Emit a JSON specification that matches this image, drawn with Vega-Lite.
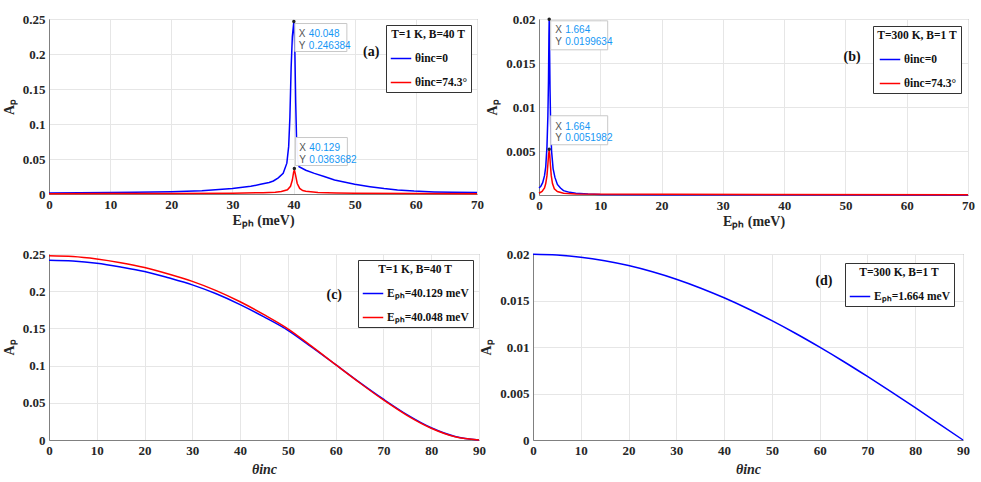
{
"$schema": "https://vega.github.io/schema/vega-lite/v6.json",
"background": "white",
"padding": {"left": 1, "top": 12, "right": 5, "bottom": 0},
"spacing": 18,
"config": {
  "font": "Liberation Serif",
  "view": {"stroke": "#808080", "strokeWidth": 1},
  "axis": {"labelFont": "Liberation Serif", "labelFontWeight": "bold", "labelFontSize": 13, "labelColor": "#262626",
           "titleFont": "Liberation Serif", "titleFontWeight": "bold", "titleFontSize": 14, "titleColor": "#262626",
           "gridColor": "#e6e6e6", "domainColor": "#808080", "ticks": false, "labelPadding": 4, "labelFlush": false, "labelOverlap": false},
  "axisX": {"titlePadding": 2},
  "axisY": {"titlePadding": 6},
  "legend": {"orient": "top-right", "offset": 6, "fillColor": "white", "strokeColor": "#333333", "padding": 4,
             "titleAnchor": "middle", "titleFont": "Liberation Serif", "titleFontWeight": "bold", "titleFontSize": 11.5, "titleColor": "#111111",
             "labelFont": "Liberation Serif", "labelFontWeight": "bold", "labelFontSize": 11.5, "labelColor": "#111111", "labelOffset": 3,
             "symbolType": "stroke", "symbolSize": 420, "symbolStrokeWidth": 1.5, "rowPadding": 7, "titlePadding": 7}
},
"datasets": {
  "a": [
    {"s":"θinc=0","x":0,"y":0.0015},{"s":"θinc=0","x":5,"y":0.0017},{"s":"θinc=0","x":10,"y":0.002},{"s":"θinc=0","x":14,"y":0.0024},
    {"s":"θinc=0","x":20,"y":0.0032},{"s":"θinc=0","x":25,"y":0.0048},{"s":"θinc=0","x":30,"y":0.0078},{"s":"θinc=0","x":33,"y":0.011},
    {"s":"θinc=0","x":34.6,"y":0.0138},{"s":"θinc=0","x":36,"y":0.0165},{"s":"θinc=0","x":36.7,"y":0.0186},{"s":"θinc=0","x":37.5,"y":0.023},
    {"s":"θinc=0","x":38.3,"y":0.0295},{"s":"θinc=0","x":38.9,"y":0.044},{"s":"θinc=0","x":39.2,"y":0.068},{"s":"θinc=0","x":39.4,"y":0.11},
    {"s":"θinc=0","x":39.6,"y":0.18},{"s":"θinc=0","x":39.8,"y":0.225},{"s":"θinc=0","x":40.048,"y":0.2464},{"s":"θinc=0","x":40.2,"y":0.21},
    {"s":"θinc=0","x":40.35,"y":0.13},{"s":"θinc=0","x":40.5,"y":0.075},{"s":"θinc=0","x":40.7,"y":0.048},{"s":"θinc=0","x":40.9,"y":0.039},
    {"s":"θinc=0","x":42,"y":0.034},{"s":"θinc=0","x":43.4,"y":0.0295},{"s":"θinc=0","x":45,"y":0.025},{"s":"θinc=0","x":46.7,"y":0.02},
    {"s":"θinc=0","x":50,"y":0.0138},{"s":"θinc=0","x":52.5,"y":0.0105},{"s":"θinc=0","x":54.8,"y":0.0078},{"s":"θinc=0","x":57,"y":0.0058},
    {"s":"θinc=0","x":59.7,"y":0.0042},{"s":"θinc=0","x":63,"y":0.003},{"s":"θinc=0","x":66,"y":0.0024},{"s":"θinc=0","x":70,"y":0.002},
    {"s":"θinc=74.3°","x":0,"y":0.0005},{"s":"θinc=74.3°","x":10,"y":0.0006},{"s":"θinc=74.3°","x":20,"y":0.0008},{"s":"θinc=74.3°","x":30,"y":0.0012},
    {"s":"θinc=74.3°","x":35,"y":0.0018},{"s":"θinc=74.3°","x":37,"y":0.0025},{"s":"θinc=74.3°","x":38,"y":0.0035},{"s":"θinc=74.3°","x":39,"y":0.006},
    {"s":"θinc=74.3°","x":39.5,"y":0.011},{"s":"θinc=74.3°","x":39.8,"y":0.02},{"s":"θinc=74.3°","x":40,"y":0.031},{"s":"θinc=74.3°","x":40.129,"y":0.0345},
    {"s":"θinc=74.3°","x":40.3,"y":0.028},{"s":"θinc=74.3°","x":40.6,"y":0.015},{"s":"θinc=74.3°","x":41,"y":0.008},{"s":"θinc=74.3°","x":41.5,"y":0.005},
    {"s":"θinc=74.3°","x":42,"y":0.0038},{"s":"θinc=74.3°","x":44,"y":0.0022},{"s":"θinc=74.3°","x":47,"y":0.0014},{"s":"θinc=74.3°","x":50,"y":0.001},
    {"s":"θinc=74.3°","x":60,"y":0.0006},{"s":"θinc=74.3°","x":70,"y":0.0005}
  ],
  "b": [
    {"s":"θinc=0","x":0,"y":0.0008},{"s":"θinc=0","x":0.3,"y":0.001},{"s":"θinc=0","x":0.6,"y":0.0014},{"s":"θinc=0","x":0.9,"y":0.0022},
    {"s":"θinc=0","x":1.1,"y":0.0032},{"s":"θinc=0","x":1.3,"y":0.0055},{"s":"θinc=0","x":1.45,"y":0.009},{"s":"θinc=0","x":1.55,"y":0.013},
    {"s":"θinc=0","x":1.62,"y":0.018},{"s":"θinc=0","x":1.664,"y":0.01996},{"s":"θinc=0","x":1.72,"y":0.017},{"s":"θinc=0","x":1.8,"y":0.012},
    {"s":"θinc=0","x":1.9,"y":0.008},{"s":"θinc=0","x":2.05,"y":0.005},{"s":"θinc=0","x":2.3,"y":0.003},{"s":"θinc=0","x":2.6,"y":0.002},
    {"s":"θinc=0","x":3,"y":0.0012},{"s":"θinc=0","x":3.5,"y":0.0008},{"s":"θinc=0","x":4,"y":0.0005},{"s":"θinc=0","x":5,"y":0.0003},
    {"s":"θinc=0","x":6,"y":0.0002},{"s":"θinc=0","x":8,"y":0.0001},{"s":"θinc=0","x":10,"y":0.00005},{"s":"θinc=0","x":20,"y":0.00002},
    {"s":"θinc=0","x":70,"y":0.00001},
    {"s":"θinc=74.3°","x":0,"y":0.0002},{"s":"θinc=74.3°","x":0.5,"y":0.0004},{"s":"θinc=74.3°","x":0.9,"y":0.0008},{"s":"θinc=74.3°","x":1.1,"y":0.0013},
    {"s":"θinc=74.3°","x":1.3,"y":0.0022},{"s":"θinc=74.3°","x":1.45,"y":0.0035},{"s":"θinc=74.3°","x":1.55,"y":0.0045},{"s":"θinc=74.3°","x":1.664,"y":0.0051},
    {"s":"θinc=74.3°","x":1.75,"y":0.0046},{"s":"θinc=74.3°","x":1.85,"y":0.0035},{"s":"θinc=74.3°","x":2,"y":0.0022},{"s":"θinc=74.3°","x":2.2,"y":0.0013},
    {"s":"θinc=74.3°","x":2.5,"y":0.0007},{"s":"θinc=74.3°","x":3,"y":0.0004},{"s":"θinc=74.3°","x":4,"y":0.0002},{"s":"θinc=74.3°","x":6,"y":0.0001},
    {"s":"θinc=74.3°","x":70,"y":0.00002}
  ],
  "c": [
    {"s":"Eₚₕ=40.129 meV","x":0,"y":0.2415},{"s":"Eₚₕ=40.129 meV","x":5,"y":0.2405},{"s":"Eₚₕ=40.129 meV","x":10,"y":0.2375},{"s":"Eₚₕ=40.129 meV","x":15,"y":0.2325},
    {"s":"Eₚₕ=40.129 meV","x":20,"y":0.2265},{"s":"Eₚₕ=40.129 meV","x":25,"y":0.218},{"s":"Eₚₕ=40.129 meV","x":30,"y":0.2085},{"s":"Eₚₕ=40.129 meV","x":35,"y":0.1965},
    {"s":"Eₚₕ=40.129 meV","x":40,"y":0.182},{"s":"Eₚₕ=40.129 meV","x":45,"y":0.1655},{"s":"Eₚₕ=40.129 meV","x":50,"y":0.1475},{"s":"Eₚₕ=40.129 meV","x":55,"y":0.1248},
    {"s":"Eₚₕ=40.129 meV","x":60,"y":0.1013},{"s":"Eₚₕ=40.129 meV","x":65,"y":0.0775},{"s":"Eₚₕ=40.129 meV","x":70,"y":0.0548},{"s":"Eₚₕ=40.129 meV","x":75,"y":0.0338},
    {"s":"Eₚₕ=40.129 meV","x":80,"y":0.0165},{"s":"Eₚₕ=40.129 meV","x":85,"y":0.0048},{"s":"Eₚₕ=40.129 meV","x":90,"y":0},
    {"s":"Eₚₕ=40.048 meV","x":0,"y":0.2475},{"s":"Eₚₕ=40.048 meV","x":5,"y":0.2465},{"s":"Eₚₕ=40.048 meV","x":10,"y":0.2432},{"s":"Eₚₕ=40.048 meV","x":15,"y":0.2382},
    {"s":"Eₚₕ=40.048 meV","x":20,"y":0.2318},{"s":"Eₚₕ=40.048 meV","x":25,"y":0.2232},{"s":"Eₚₕ=40.048 meV","x":30,"y":0.2132},{"s":"Eₚₕ=40.048 meV","x":35,"y":0.2008},
    {"s":"Eₚₕ=40.048 meV","x":40,"y":0.1858},{"s":"Eₚₕ=40.048 meV","x":45,"y":0.1685},{"s":"Eₚₕ=40.048 meV","x":50,"y":0.1495},{"s":"Eₚₕ=40.048 meV","x":55,"y":0.1258},
    {"s":"Eₚₕ=40.048 meV","x":60,"y":0.1013},{"s":"Eₚₕ=40.048 meV","x":65,"y":0.077},{"s":"Eₚₕ=40.048 meV","x":70,"y":0.0538},{"s":"Eₚₕ=40.048 meV","x":75,"y":0.0328},
    {"s":"Eₚₕ=40.048 meV","x":80,"y":0.0158},{"s":"Eₚₕ=40.048 meV","x":85,"y":0.0044},{"s":"Eₚₕ=40.048 meV","x":90,"y":0}
  ],
  "d": [
    {"s":"Eₚₕ=1.664 meV","x":0,"y":0.01996},{"s":"Eₚₕ=1.664 meV","x":5,"y":0.01988},{"s":"Eₚₕ=1.664 meV","x":10,"y":0.01966},{"s":"Eₚₕ=1.664 meV","x":15,"y":0.01928},
    {"s":"Eₚₕ=1.664 meV","x":20,"y":0.01876},{"s":"Eₚₕ=1.664 meV","x":25,"y":0.01809},{"s":"Eₚₕ=1.664 meV","x":30,"y":0.01729},{"s":"Eₚₕ=1.664 meV","x":35,"y":0.01635},
    {"s":"Eₚₕ=1.664 meV","x":40,"y":0.01529},{"s":"Eₚₕ=1.664 meV","x":45,"y":0.01411},{"s":"Eₚₕ=1.664 meV","x":50,"y":0.01283},{"s":"Eₚₕ=1.664 meV","x":55,"y":0.01145},
    {"s":"Eₚₕ=1.664 meV","x":60,"y":0.00998},{"s":"Eₚₕ=1.664 meV","x":65,"y":0.00844},{"s":"Eₚₕ=1.664 meV","x":70,"y":0.00683},{"s":"Eₚₕ=1.664 meV","x":75,"y":0.00517},
    {"s":"Eₚₕ=1.664 meV","x":80,"y":0.00347},{"s":"Eₚₕ=1.664 meV","x":85,"y":0.00174},{"s":"Eₚₕ=1.664 meV","x":90,"y":0}
  ],
  "tips": [
    {"p":"a","k":"top","x":40.048,"y":0.246384,"xs":"40.048","ys":"0.246384"},
    {"p":"a","k":"bot","x":40.129,"y":0.0363682,"xs":"40.129","ys":"0.0363682"},
    {"p":"b","k":"top","x":1.664,"y":0.0199634,"xs":"1.664","ys":"0.0199634"},
    {"p":"b","k":"bot","x":1.664,"y":0.0051982,"xs":"1.664","ys":"0.0051982"}
  ]
},
"resolve": {"scale": {"x": "independent", "y": "independent", "color": "independent"}, "legend": {"color": "independent"}, "axis": {"x": "independent", "y": "independent"}},
"vconcat": [
  {
    "hconcat": [
      {
        "width": 428, "height": 175,
        "encoding": {
          "x": {"type": "quantitative", "scale": {"domain": [0, 70], "nice": false}, "axis": {"values": [0,10,20,30,40,50,60,70], "title": "Eₚₕ (meV)"}},
          "y": {"type": "quantitative", "scale": {"domain": [0, 0.25], "nice": false}, "axis": {"values": [0,0.05,0.1,0.15,0.2,0.25], "format": ".2~f", "title": "Aₚ"}}
        },
        "layer": [
          {"data": {"name": "a"}, "mark": {"type": "line", "strokeWidth": 1.5},
           "encoding": {"x": {"field": "x"}, "y": {"field": "y"},
             "color": {"field": "s", "type": "nominal", "scale": {"domain": ["θinc=0", "θinc=74.3°"], "range": ["#0000ff", "#ff0000"]},
                       "legend": {"title": "T=1 K, B=40 T"}}}},
          {"data": {"name": "tips"}, "transform": [{"filter": "datum.p=='a' && datum.k=='top'"}],
           "mark": {"type": "rect", "width": 52, "height": 28, "xOffset": 27, "yOffset": 16, "fill": "white", "fillOpacity": 0.95, "stroke": "#c8c8c8", "strokeWidth": 1},
           "encoding": {"x": {"field": "x"}, "y": {"field": "y"}}},
          {"data": {"name": "tips"}, "transform": [{"filter": "datum.p=='a' && datum.k=='bot'"}],
           "mark": {"type": "rect", "width": 52, "height": 28, "xOffset": 27, "yOffset": -17, "fill": "white", "fillOpacity": 0.95, "stroke": "#c8c8c8", "strokeWidth": 1},
           "encoding": {"x": {"field": "x"}, "y": {"field": "y"}}},
          {"data": {"name": "tips"}, "transform": [{"filter": "datum.p=='a' && datum.k=='top'"}],
           "mark": {"type": "text", "text": "X", "align": "left", "baseline": "middle", "dx": 5, "dy": 12, "font": "Liberation Sans", "fontSize": 10, "color": "#555555"},
           "encoding": {"x": {"field": "x"}, "y": {"field": "y"}}},
          {"data": {"name": "tips"}, "transform": [{"filter": "datum.p=='a' && datum.k=='top'"}],
           "mark": {"type": "text", "text": "Y", "align": "left", "baseline": "middle", "dx": 5, "dy": 24, "font": "Liberation Sans", "fontSize": 10, "color": "#555555"},
           "encoding": {"x": {"field": "x"}, "y": {"field": "y"}}},
          {"data": {"name": "tips"}, "transform": [{"filter": "datum.p=='a' && datum.k=='top'"}],
           "mark": {"type": "text", "align": "left", "baseline": "middle", "dx": 15, "dy": 12, "font": "Liberation Sans", "fontSize": 10, "color": "#1597f5"},
           "encoding": {"x": {"field": "x"}, "y": {"field": "y"}, "text": {"field": "xs"}}},
          {"data": {"name": "tips"}, "transform": [{"filter": "datum.p=='a' && datum.k=='top'"}],
           "mark": {"type": "text", "align": "left", "baseline": "middle", "dx": 15, "dy": 24, "font": "Liberation Sans", "fontSize": 10, "color": "#1597f5"},
           "encoding": {"x": {"field": "x"}, "y": {"field": "y"}, "text": {"field": "ys"}}},
          {"data": {"name": "tips"}, "transform": [{"filter": "datum.p=='a' && datum.k=='bot'"}],
           "mark": {"type": "text", "text": "X", "align": "left", "baseline": "middle", "dx": 5, "dy": -21, "font": "Liberation Sans", "fontSize": 10, "color": "#555555"},
           "encoding": {"x": {"field": "x"}, "y": {"field": "y"}}},
          {"data": {"name": "tips"}, "transform": [{"filter": "datum.p=='a' && datum.k=='bot'"}],
           "mark": {"type": "text", "text": "Y", "align": "left", "baseline": "middle", "dx": 5, "dy": -9, "font": "Liberation Sans", "fontSize": 10, "color": "#555555"},
           "encoding": {"x": {"field": "x"}, "y": {"field": "y"}}},
          {"data": {"name": "tips"}, "transform": [{"filter": "datum.p=='a' && datum.k=='bot'"}],
           "mark": {"type": "text", "align": "left", "baseline": "middle", "dx": 15, "dy": -21, "font": "Liberation Sans", "fontSize": 10, "color": "#1597f5"},
           "encoding": {"x": {"field": "x"}, "y": {"field": "y"}, "text": {"field": "xs"}}},
          {"data": {"name": "tips"}, "transform": [{"filter": "datum.p=='a' && datum.k=='bot'"}],
           "mark": {"type": "text", "align": "left", "baseline": "middle", "dx": 15, "dy": -9, "font": "Liberation Sans", "fontSize": 10, "color": "#1597f5"},
           "encoding": {"x": {"field": "x"}, "y": {"field": "y"}, "text": {"field": "ys"}}},
          {"data": {"name": "tips"}, "transform": [{"filter": "datum.p=='a'"}],
           "mark": {"type": "point", "filled": true, "size": 12, "color": "#222222", "opacity": 1},
           "encoding": {"x": {"field": "x"}, "y": {"field": "y"}}},
          {"data": {"values": [{}]},
           "mark": {"type": "text", "text": "(a)", "font": "Liberation Serif", "fontWeight": "bold", "fontSize": 14, "color": "#111111"},
           "encoding": {"x": {"datum": 52.7}, "y": {"datum": 0.203}}}
        ]
      },
      {
        "width": 429, "height": 176,
        "encoding": {
          "x": {"type": "quantitative", "scale": {"domain": [0, 70], "nice": false}, "axis": {"values": [0,10,20,30,40,50,60,70], "title": "Eₚₕ (meV)"}},
          "y": {"type": "quantitative", "scale": {"domain": [0, 0.02], "nice": false}, "axis": {"values": [0,0.005,0.01,0.015,0.02], "format": ".3~f", "title": "Aₚ"}}
        },
        "layer": [
          {"data": {"name": "b"}, "mark": {"type": "line", "strokeWidth": 1.5},
           "encoding": {"x": {"field": "x"}, "y": {"field": "y"},
             "color": {"field": "s", "type": "nominal", "scale": {"domain": ["θinc=0", "θinc=74.3°"], "range": ["#0000ff", "#ff0000"]},
                       "legend": {"title": "T=300 K, B=1 T", "offset": 7}}}},
          {"data": {"name": "tips"}, "transform": [{"filter": "datum.p=='b' && datum.k=='top'"}],
           "mark": {"type": "rect", "width": 57, "height": 29, "xOffset": 30, "yOffset": 16, "fill": "white", "fillOpacity": 0.95, "stroke": "#c8c8c8", "strokeWidth": 1},
           "encoding": {"x": {"field": "x"}, "y": {"field": "y"}}},
          {"data": {"name": "tips"}, "transform": [{"filter": "datum.p=='b' && datum.k=='bot'"}],
           "mark": {"type": "rect", "width": 57, "height": 29, "xOffset": 30, "yOffset": -19, "fill": "white", "fillOpacity": 0.95, "stroke": "#c8c8c8", "strokeWidth": 1},
           "encoding": {"x": {"field": "x"}, "y": {"field": "y"}}},
          {"data": {"name": "tips"}, "transform": [{"filter": "datum.p=='b' && datum.k=='top'"}],
           "mark": {"type": "text", "text": "X", "align": "left", "baseline": "middle", "dx": 6, "dy": 11, "font": "Liberation Sans", "fontSize": 10, "color": "#555555"},
           "encoding": {"x": {"field": "x"}, "y": {"field": "y"}}},
          {"data": {"name": "tips"}, "transform": [{"filter": "datum.p=='b' && datum.k=='top'"}],
           "mark": {"type": "text", "text": "Y", "align": "left", "baseline": "middle", "dx": 6, "dy": 23, "font": "Liberation Sans", "fontSize": 10, "color": "#555555"},
           "encoding": {"x": {"field": "x"}, "y": {"field": "y"}}},
          {"data": {"name": "tips"}, "transform": [{"filter": "datum.p=='b' && datum.k=='top'"}],
           "mark": {"type": "text", "align": "left", "baseline": "middle", "dx": 16, "dy": 11, "font": "Liberation Sans", "fontSize": 10, "color": "#1597f5"},
           "encoding": {"x": {"field": "x"}, "y": {"field": "y"}, "text": {"field": "xs"}}},
          {"data": {"name": "tips"}, "transform": [{"filter": "datum.p=='b' && datum.k=='top'"}],
           "mark": {"type": "text", "align": "left", "baseline": "middle", "dx": 16, "dy": 23, "font": "Liberation Sans", "fontSize": 10, "color": "#1597f5"},
           "encoding": {"x": {"field": "x"}, "y": {"field": "y"}, "text": {"field": "ys"}}},
          {"data": {"name": "tips"}, "transform": [{"filter": "datum.p=='b' && datum.k=='bot'"}],
           "mark": {"type": "text", "text": "X", "align": "left", "baseline": "middle", "dx": 6, "dy": -22, "font": "Liberation Sans", "fontSize": 10, "color": "#555555"},
           "encoding": {"x": {"field": "x"}, "y": {"field": "y"}}},
          {"data": {"name": "tips"}, "transform": [{"filter": "datum.p=='b' && datum.k=='bot'"}],
           "mark": {"type": "text", "text": "Y", "align": "left", "baseline": "middle", "dx": 6, "dy": -11, "font": "Liberation Sans", "fontSize": 10, "color": "#555555"},
           "encoding": {"x": {"field": "x"}, "y": {"field": "y"}}},
          {"data": {"name": "tips"}, "transform": [{"filter": "datum.p=='b' && datum.k=='bot'"}],
           "mark": {"type": "text", "align": "left", "baseline": "middle", "dx": 16, "dy": -22, "font": "Liberation Sans", "fontSize": 10, "color": "#1597f5"},
           "encoding": {"x": {"field": "x"}, "y": {"field": "y"}, "text": {"field": "xs"}}},
          {"data": {"name": "tips"}, "transform": [{"filter": "datum.p=='b' && datum.k=='bot'"}],
           "mark": {"type": "text", "align": "left", "baseline": "middle", "dx": 16, "dy": -11, "font": "Liberation Sans", "fontSize": 10, "color": "#1597f5"},
           "encoding": {"x": {"field": "x"}, "y": {"field": "y"}, "text": {"field": "ys"}}},
          {"data": {"name": "tips"}, "transform": [{"filter": "datum.p=='b'"}],
           "mark": {"type": "point", "filled": true, "size": 12, "color": "#222222", "opacity": 1},
           "encoding": {"x": {"field": "x"}, "y": {"field": "y"}}},
          {"data": {"values": [{}]},
           "mark": {"type": "text", "text": "(b)", "font": "Liberation Serif", "fontWeight": "bold", "fontSize": 14, "color": "#111111"},
           "encoding": {"x": {"datum": 51.1}, "y": {"datum": 0.0157}}}
        ]
      }
    ],
    "spacing": 62,
    "bounds": "flush",
    "resolve": {"scale": {"x": "independent", "y": "independent", "color": "independent"}, "legend": {"color": "independent"}, "axis": {"x": "independent", "y": "independent"}}
  },
  {
    "hconcat": [
      {
        "width": 430, "height": 186,
        "encoding": {
          "x": {"type": "quantitative", "scale": {"domain": [0, 90], "nice": false}, "axis": {"values": [0,10,20,30,40,50,60,70,80,90], "title": "θinc", "titleFontStyle": "italic", "titleFontSize": 14, "titlePadding": 5, "labelPadding": 4}},
          "y": {"type": "quantitative", "scale": {"domain": [0, 0.25], "nice": false}, "axis": {"values": [0,0.05,0.1,0.15,0.2,0.25], "format": ".2~f", "title": "Aₚ"}}
        },
        "layer": [
          {"data": {"name": "c"}, "mark": {"type": "line", "strokeWidth": 1.5, "interpolate": "monotone"},
           "encoding": {"x": {"field": "x"}, "y": {"field": "y"},
             "color": {"field": "s", "type": "nominal", "scale": {"domain": ["Eₚₕ=40.129 meV", "Eₚₕ=40.048 meV"], "range": ["#0000ff", "#ff0000"]},
                       "legend": {"title": "T=1 K, B=40 T", "offset": 6}}}},
          {"data": {"values": [{}]},
           "mark": {"type": "text", "text": "(c)", "font": "Liberation Serif", "fontWeight": "bold", "fontSize": 14, "color": "#111111"},
           "encoding": {"x": {"datum": 59.7}, "y": {"datum": 0.195}}}
        ]
      },
      {
        "width": 430, "height": 186,
        "encoding": {
          "x": {"type": "quantitative", "scale": {"domain": [0, 90], "nice": false}, "axis": {"values": [0,10,20,30,40,50,60,70,80,90], "title": "θinc", "titleFontStyle": "italic", "titleFontSize": 14, "titlePadding": 5, "labelPadding": 4}},
          "y": {"type": "quantitative", "scale": {"domain": [0, 0.02], "nice": false}, "axis": {"values": [0,0.005,0.01,0.015,0.02], "format": ".3~f", "title": "Aₚ"}}
        },
        "layer": [
          {"data": {"name": "d"}, "mark": {"type": "line", "strokeWidth": 1.5, "interpolate": "monotone"},
           "encoding": {"x": {"field": "x"}, "y": {"field": "y"},
             "color": {"field": "s", "type": "nominal", "scale": {"domain": ["Eₚₕ=1.664 meV"], "range": ["#0000ff"]},
                       "legend": {"title": "T=300 K, B=1 T", "offset": 9}}}},
          {"data": {"values": [{}]},
           "mark": {"type": "text", "text": "(d)", "font": "Liberation Serif", "fontWeight": "bold", "fontSize": 14, "color": "#111111"},
           "encoding": {"x": {"datum": 60.9}, "y": {"datum": 0.0171}}}
        ]
      }
    ],
    "spacing": 54,
    "bounds": "flush",
    "resolve": {"scale": {"x": "independent", "y": "independent", "color": "independent"}, "legend": {"color": "independent"}, "axis": {"x": "independent", "y": "independent"}}
  }
]
}
